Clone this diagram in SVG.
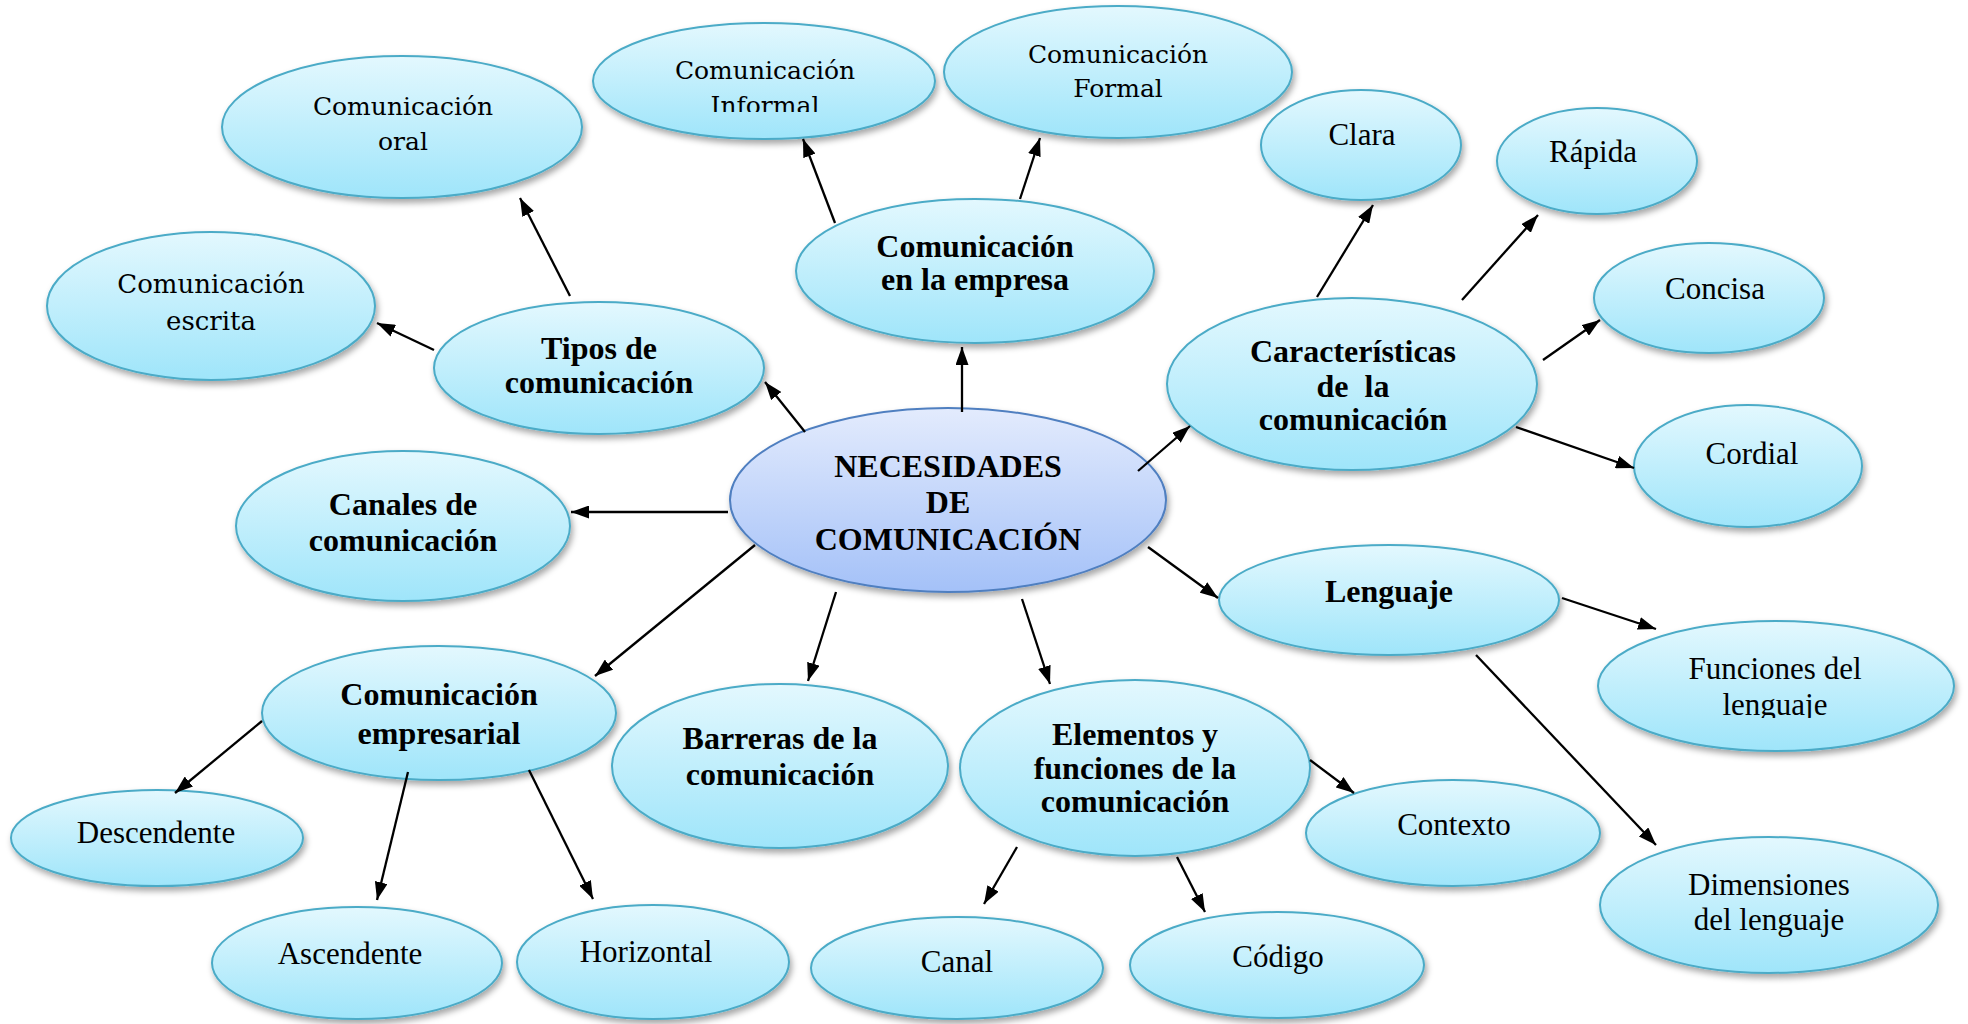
<svg xmlns="http://www.w3.org/2000/svg" width="1968" height="1024" viewBox="0 0 1968 1024">
<style>
.n{fill:url(#gc);stroke:#4babc7;stroke-width:2;filter:url(#sh)}
.c{fill:url(#gm);stroke:#4f7fc0;stroke-width:2;filter:url(#sh)}
text{fill:#000;text-anchor:middle}
.r{font-family:"Liberation Serif","Times New Roman",serif;font-size:31px}
.b{font-family:"Liberation Serif","Times New Roman",serif;font-size:32px;font-weight:bold}
.m{font-family:"DejaVu Serif",serif;font-size:25px}
.e line{stroke:#000;stroke-width:2.3;marker-end:url(#ah)}
</style>
<defs>
<linearGradient id="gc" x1="0" y1="0" x2="0" y2="1">
<stop offset="0" stop-color="#e3f8fe"/>
<stop offset="1" stop-color="#9fe5fa"/>
</linearGradient>
<linearGradient id="gm" x1="0" y1="0" x2="0" y2="1">
<stop offset="0" stop-color="#e3ebfd"/>
<stop offset="1" stop-color="#a4c1f8"/>
</linearGradient>
<filter id="sh" x="-10%" y="-10%" width="125%" height="130%">
<feDropShadow dx="2" dy="4" stdDeviation="3" flood-color="#000" flood-opacity="0.35"/>
</filter>
<marker id="ah" markerWidth="18" markerHeight="13" refX="18" refY="6.5" orient="auto" markerUnits="userSpaceOnUse">
<path d="M0,0 L18,6.5 L0,13 z" fill="#000"/>
</marker>
<clipPath id="clipInf"><rect x="600" y="40" width="330" height="72"/></clipPath>
<clipPath id="clipLen"><rect x="1600" y="640" width="350" height="78"/></clipPath>
</defs>
<rect width="1968" height="1024" fill="#fff"/>

<g id="n-oral"><ellipse class="n" cx="402" cy="127" rx="180" ry="71"/><text class="m" x="403" y="115">Comunicación</text><text class="m" x="403" y="150">oral</text></g>
<g id="n-informal"><ellipse class="n" cx="764" cy="81" rx="171" ry="58"/><g clip-path="url(#clipInf)"><text class="m" x="765" y="79">Comunicación</text><text class="m" x="765" y="114">Informal</text></g></g>
<g id="n-formal"><ellipse class="n" cx="1118" cy="72" rx="174" ry="66"/><text class="m" x="1118" y="63">Comunicación</text><text class="m" x="1118" y="97">Formal</text></g>
<g id="n-escrita"><ellipse class="n" cx="211" cy="306" rx="164" ry="74"/><text class="m" x="211" y="293" style="font-size:26px">Comunicación</text><text class="m" x="211" y="330" style="font-size:26px">escrita</text></g>
<g id="n-tipos"><ellipse class="n" cx="599" cy="368" rx="165" ry="66"/><text class="b" x="599" y="359">Tipos de</text><text class="b" x="599" y="393">comunicación</text></g>
<g id="n-empresa"><ellipse class="n" cx="975" cy="271" rx="179" ry="72"/><text class="b" x="975" y="257">Comunicación</text><text class="b" x="975" y="290">en la empresa</text></g>
<g id="n-canales"><ellipse class="n" cx="403" cy="526" rx="167" ry="75"/><text class="b" x="403" y="515">Canales de</text><text class="b" x="403" y="551">comunicación</text></g>
<g id="n-central"><ellipse class="c" cx="948" cy="500" rx="218" ry="92"/><text class="b" x="948" y="477">NECESIDADES</text><text class="b" x="948" y="513">DE</text><text class="b" x="948" y="550">COMUNICACIÓN</text></g>
<g id="n-caracteristicas"><ellipse class="n" cx="1352" cy="384" rx="185" ry="86"/><text class="b" x="1353" y="362">Características</text><text class="b" x="1353" y="397" style="white-space:pre">de  la</text><text class="b" x="1353" y="430">comunicación</text></g>
<g id="n-clara"><ellipse class="n" cx="1361" cy="145" rx="100" ry="55"/><text class="r" x="1362" y="145">Clara</text></g>
<g id="n-rapida"><ellipse class="n" cx="1597" cy="161" rx="100" ry="53"/><text class="r" x="1593" y="162">Rápida</text></g>
<g id="n-concisa"><ellipse class="n" cx="1709" cy="298" rx="115" ry="55"/><text class="r" x="1715" y="299">Concisa</text></g>
<g id="n-cordial"><ellipse class="n" cx="1748" cy="466" rx="114" ry="61"/><text class="r" x="1752" y="464">Cordial</text></g>
<g id="n-lenguaje"><ellipse class="n" cx="1389" cy="600" rx="170" ry="55"/><text class="b" x="1389" y="602">Lenguaje</text></g>
<g id="n-funciones"><ellipse class="n" cx="1776" cy="686" rx="178" ry="65"/><text class="r" x="1775" y="679">Funciones del</text><g clip-path="url(#clipLen)"><text class="r" x="1775" y="715">lenguaje</text></g></g>
<g id="n-dimensiones"><ellipse class="n" cx="1769" cy="905" rx="169" ry="68"/><text class="r" x="1769" y="895">Dimensiones</text><text class="r" x="1769" y="930">del lenguaje</text></g>
<g id="n-elementos"><ellipse class="n" cx="1135" cy="768" rx="175" ry="88"/><text class="b" x="1135" y="745">Elementos y</text><text class="b" x="1135" y="779">funciones de la</text><text class="b" x="1135" y="812">comunicación</text></g>
<g id="n-contexto"><ellipse class="n" cx="1453" cy="833" rx="147" ry="53"/><text class="r" x="1454" y="835">Contexto</text></g>
<g id="n-codigo"><ellipse class="n" cx="1277" cy="965" rx="147" ry="53"/><text class="r" x="1278" y="967">Código</text></g>
<g id="n-canal"><ellipse class="n" cx="957" cy="968" rx="146" ry="51"/><text class="r" x="957" y="972">Canal</text></g>
<g id="n-horizontal"><ellipse class="n" cx="653" cy="962" rx="136" ry="57"/><text class="r" x="646" y="962">Horizontal</text></g>
<g id="n-ascendente"><ellipse class="n" cx="357" cy="963" rx="145" ry="56"/><text class="r" x="350" y="964">Ascendente</text></g>
<g id="n-descendente"><ellipse class="n" cx="157" cy="838" rx="146" ry="48"/><text class="r" x="156" y="843">Descendente</text></g>
<g id="n-empresarial"><ellipse class="n" cx="439" cy="713" rx="177" ry="67"/><text class="b" x="439" y="705">Comunicación</text><text class="b" x="439" y="744">empresarial</text></g>
<g id="n-barreras"><ellipse class="n" cx="780" cy="766" rx="168" ry="82"/><text class="b" x="780" y="749">Barreras de la</text><text class="b" x="780" y="785">comunicación</text></g>

<g id="connectors" class="e">
<line x1="570" y1="296" x2="520" y2="198"/>
<line x1="434" y1="350" x2="377" y2="323"/>
<line x1="835" y1="223" x2="803" y2="139"/>
<line x1="1020" y1="199" x2="1040" y2="138"/>
<line x1="805" y1="432" x2="765" y2="382"/>
<line x1="962" y1="412" x2="962" y2="347"/>
<line x1="728" y1="512" x2="571" y2="512"/>
<line x1="1138" y1="471" x2="1190" y2="426"/>
<line x1="1317" y1="297" x2="1373" y2="205"/>
<line x1="1462" y1="300" x2="1538" y2="215"/>
<line x1="1543" y1="360" x2="1600" y2="320"/>
<line x1="1516" y1="427" x2="1634" y2="468"/>
<line x1="1148" y1="547" x2="1218" y2="598"/>
<line x1="1562" y1="598" x2="1656" y2="629"/>
<line x1="1476" y1="655" x2="1656" y2="845"/>
<line x1="1022" y1="599" x2="1050" y2="684"/>
<line x1="1310" y1="760" x2="1354" y2="793"/>
<line x1="1177" y1="857" x2="1205" y2="912"/>
<line x1="1017" y1="847" x2="984" y2="904"/>
<line x1="755" y1="545" x2="595" y2="676"/>
<line x1="836" y1="592" x2="808" y2="681"/>
<line x1="262" y1="721" x2="175" y2="793"/>
<line x1="408" y1="772" x2="377" y2="900"/>
<line x1="529" y1="770" x2="593" y2="899"/>
</g>
</svg>
